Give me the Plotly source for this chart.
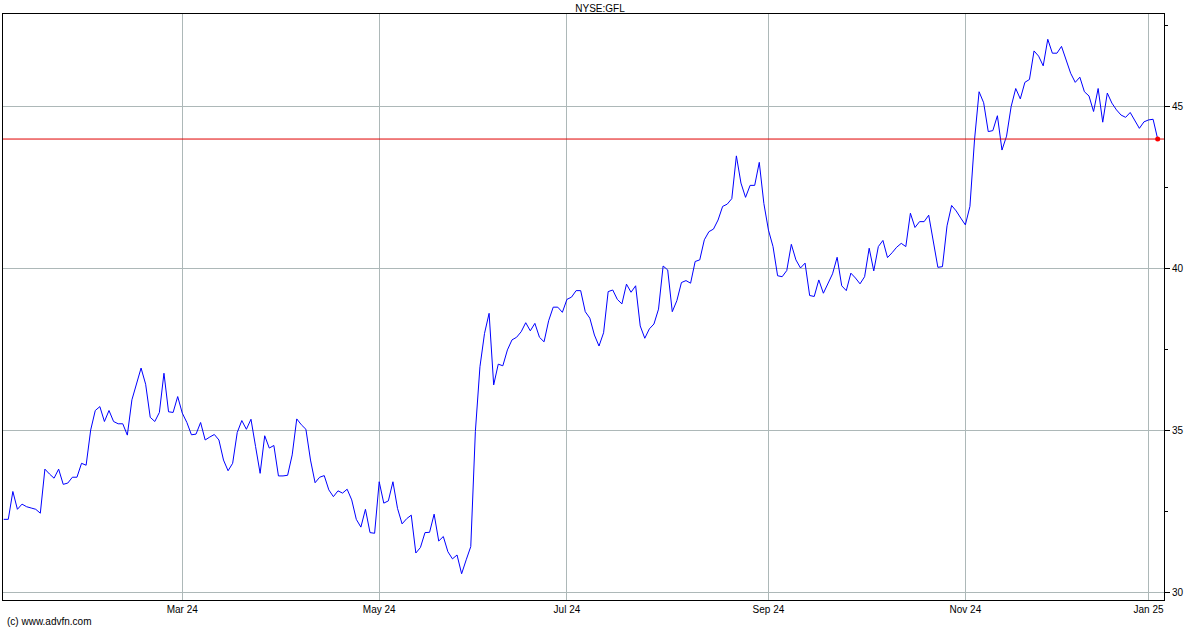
import plotly.graph_objects as go

# ---- data (daily closes) ----
close = [
    32.27, 32.27, 33.13, 32.58, 32.74, 32.66, 32.62, 32.58, 32.46, 33.82,
    33.67, 33.54, 33.82, 33.35, 33.39, 33.57, 33.57, 34.00, 33.94, 35.03,
    35.63, 35.75, 35.29, 35.63, 35.29, 35.22, 35.22, 34.87, 35.96, 36.44,
    36.94, 36.44, 35.42, 35.29, 35.57, 36.78, 35.59, 35.57, 36.06, 35.55,
    35.26, 34.88, 34.90, 35.26, 34.72, 34.81, 34.89, 34.72, 34.10, 33.77,
    34.00, 34.95, 35.32, 35.05, 35.36, 34.52, 33.69, 34.85, 34.47, 34.55,
    33.61, 33.61, 33.63, 34.26, 35.37, 35.19, 35.05, 34.10, 33.40, 33.57,
    33.62, 33.18, 32.97, 33.15, 33.08, 33.20, 32.87, 32.27, 32.03, 32.58,
    31.86, 31.84, 33.43, 32.77, 32.84, 33.43, 32.61, 32.13, 32.29, 32.40,
    31.23, 31.40, 31.86, 31.87, 32.43, 31.60, 31.74, 31.27, 31.05, 31.17,
    30.59, 31.02, 31.43, 34.98, 36.98, 38.01, 38.63, 36.42, 37.06, 37.01,
    37.50, 37.81, 37.89, 38.06, 38.34, 38.09, 38.32, 37.89, 37.75, 38.40,
    38.82, 38.82, 38.66, 39.06, 39.13, 39.33, 39.33, 38.68, 38.48, 37.96,
    37.62, 38.03, 39.30, 39.35, 39.06, 38.92, 39.53, 39.28, 39.48, 38.24,
    37.86, 38.15, 38.30, 38.76, 40.09, 39.97, 38.68, 39.02, 39.58, 39.64,
    39.56, 40.23, 40.28, 40.90, 41.15, 41.23, 41.51, 41.93, 42.00, 42.17,
    43.49, 42.65, 42.21, 42.58, 42.58, 43.29, 42.02, 41.20, 40.69, 39.79,
    39.76, 39.95, 40.76, 40.28, 40.03, 40.18, 39.18, 39.15, 39.66, 39.25,
    39.54, 39.85, 40.36, 39.48, 39.33, 39.87, 39.72, 39.54, 39.76, 40.64,
    39.94, 40.69, 40.88, 40.35, 40.50, 40.67, 40.79, 40.69, 41.72, 41.28,
    41.46, 41.46, 41.66, 40.84, 40.05, 40.07, 41.33, 41.96, 41.79, 41.57,
    41.36, 41.93, 43.98, 45.47, 45.13, 44.24, 44.27, 44.73, 43.67, 44.10,
    45.01, 45.57, 45.25, 45.76, 45.85, 46.73, 46.57, 46.27, 47.09, 46.66,
    46.66, 46.87, 46.43, 46.04, 45.76, 45.92, 45.47, 45.34, 44.86, 45.57,
    44.53, 45.43, 45.12, 44.91, 44.75, 44.68, 44.83, 44.60, 44.34, 44.54,
    44.60, 44.62, 44.01,
]

# session index at which each labelled month begins
tick_index = [39, 82, 123, 167, 210, 250]
tick_labels = ["Mar 24", "May 24", "Jul 24", "Sep 24", "Nov 24", "Jan 25"]
y_ticks = [30, 35, 40, 45]
symbol = "NYSE:GFL"
credit = "(c) www.advfn.com"

# ---- figure ----
session = list(range(len(close)))
last_x, last_y = session[-1], close[-1]

FONT = "Liberation Sans, Arial, Helvetica, sans-serif"
GRID = "#adb8b8"

fig = go.Figure()
fig.add_trace(go.Scatter(
    x=session, y=close, mode="lines",
    line=dict(color="#0000ff", width=1), hoverinfo="skip",
))
fig.add_hline(y=last_y, line=dict(color="#e00000", width=1))
fig.add_trace(go.Scatter(
    x=[last_x], y=[last_y], mode="markers",
    marker=dict(color="#ff0000", size=5), hoverinfo="skip",
))

fig.update_layout(
    width=1200, height=630,
    margin=dict(l=3, r=36, t=14, b=30),
    paper_bgcolor="white", plot_bgcolor="white",
    showlegend=False,
    font=dict(family=FONT, size=10, color="black"),
    title=dict(text=symbol, x=0.5, xref="container", xanchor="center",
               y=1 - 8 / 630, yref="container", yanchor="middle",
               font=dict(family=FONT, size=10, color="black")),
    xaxis=dict(
        range=[-0.15, 253.38], automargin=False,
        tickmode="array", tickvals=tick_index, ticktext=tick_labels,
        showgrid=True, gridcolor=GRID, gridwidth=1,
        showline=True, mirror=True, linecolor="black", linewidth=1,
        ticks="", zeroline=False,
        tickfont=dict(family=FONT, size=10, color="black"),
    ),
    yaxis=dict(
        side="right", automargin=False,
        range=[29.78, 47.87],
        tickmode="array", tickvals=y_ticks,
        showgrid=True, gridcolor=GRID, gridwidth=1,
        showline=True, mirror=True, linecolor="black", linewidth=1,
        ticks="outside", ticklen=5, tickcolor="black",
        minor=dict(tickmode="linear", tick0=0, dtick=2.5, ticks="outside",
                   ticklen=3, tickcolor="black", showgrid=False),
        zeroline=False,
        tickfont=dict(family=FONT, size=10, color="black"),
    ),
)

fig.add_annotation(
    text=credit, xref="paper", yref="paper",
    x=0.0017, y=-(622 - 600) / 586, xanchor="left", yanchor="middle",
    showarrow=False, font=dict(family=FONT, size=10, color="black"),
)

fig.write_html(
    "out.html",
    config={"displayModeBar": False, "staticPlot": True},
    post_script="document.body.style.margin='0px';document.body.style.overflow='hidden';",
)
